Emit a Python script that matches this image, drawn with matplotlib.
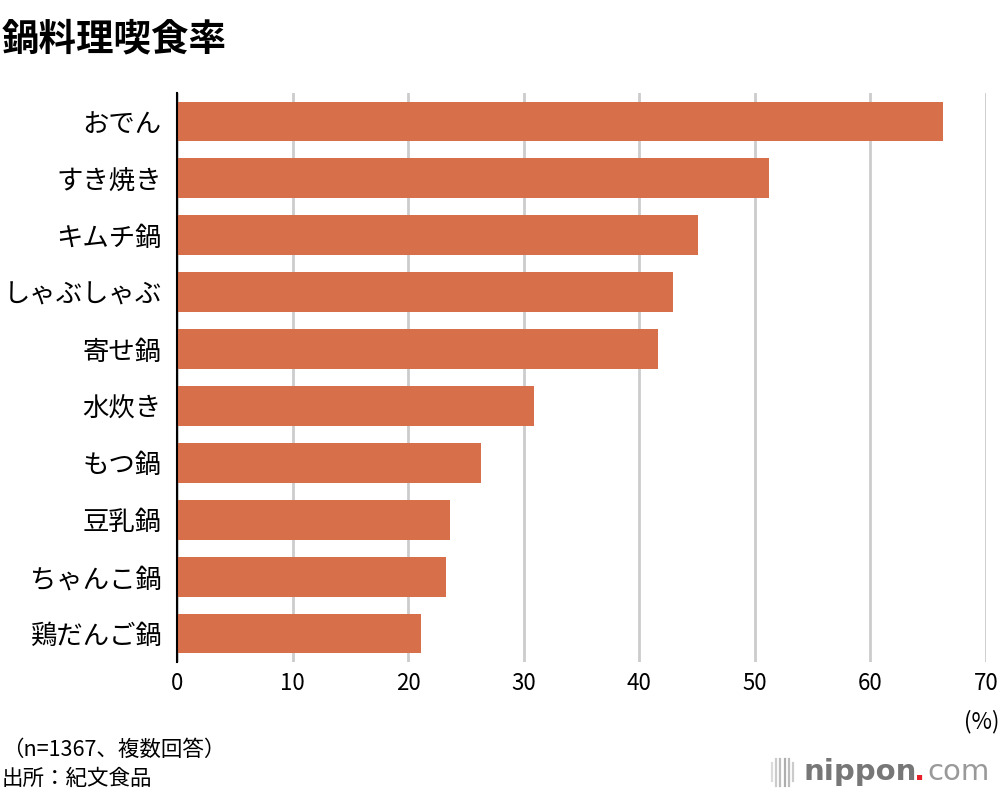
import matplotlib
matplotlib.use("Agg")
import matplotlib.pyplot as plt
import numpy as np

plt.rcParams['font.family'] = ['Noto Sans CJK JP', 'DejaVu Sans']

# data (%)
dishes = ["おでん", "すき焼き", "キムチ鍋", "しゃぶしゃぶ", "寄せ鍋",
          "水炊き", "もつ鍋", "豆乳鍋", "ちゃんこ鍋", "鶏だんご鍋"]
rates = [66.3, 51.2, 45.1, 42.9, 41.6, 30.9, 26.3, 23.6, 23.3, 21.1]
xticks = [0, 10, 20, 30, 40, 50, 60, 70]

bar_color = "#D76F4B"

fig = plt.figure(figsize=(10, 7.96), dpi=100)
ax = fig.add_axes([0.177, 0.1683, 0.809, 0.7149])

y = np.arange(len(dishes))
ax.barh(y, rates, height=0.7, color=bar_color, zorder=3)

ax.set_ylim(len(dishes) - 0.5, -0.5)
ax.set_xlim(0, 70)
ax.set_yticks(y)
ax.set_yticklabels(dishes, fontsize=19)
ax.set_xticks(xticks)
ax.set_xticklabels([str(t) for t in xticks], fontsize=16)
ax.tick_params(axis='x', length=0, pad=7)
ax.tick_params(axis='y', length=0, pad=11)

ax.grid(axis='x', color="#cccccc", linewidth=2, zorder=0)
for s in ["top", "right", "bottom"]:
    ax.spines[s].set_visible(False)
ax.spines["left"].set_linewidth(1.5)
ax.spines["left"].set_zorder(4)

# title and notes
fig.text(0.002, 0.975, "鍋料理喫食率", fontsize=27, fontweight='bold', va='top', ha='left')
fig.text(0.999, 0.094, "(%)", fontsize=16, ha='right', va='center')
fig.text(0.002, 0.058, "（n=1367、複数回答）", fontsize=15.5, ha='left', va='center')
fig.text(0.002, 0.022, "出所：紀文食品", fontsize=15.5, ha='left', va='center')

# logo
for i, a in enumerate([0.35, 0.5, 0.65, 0.8, 0.65, 0.5]):
    x = 0.772 + i * 0.0042
    h = 0.011 if i in (0, 5) else 0.017
    fig.add_artist(plt.Line2D([x, x], [0.03 - h, 0.03 + h], color="#999999",
                              alpha=a, linewidth=1.6))
fig.text(0.803, 0.03, "nippon", fontsize=21, fontweight='bold', color="#777777",
         ha='left', va='center', family=['DejaVu Sans'])
fig.text(0.920, 0.03, ".", fontsize=21, fontweight='bold', color="#e8202a",
         ha='center', va='center', family=['DejaVu Sans'])
fig.text(0.927, 0.03, "com", fontsize=21, color="#999999",
         ha='left', va='center', family=['DejaVu Sans'])

fig.savefig("out.png", dpi=100)
